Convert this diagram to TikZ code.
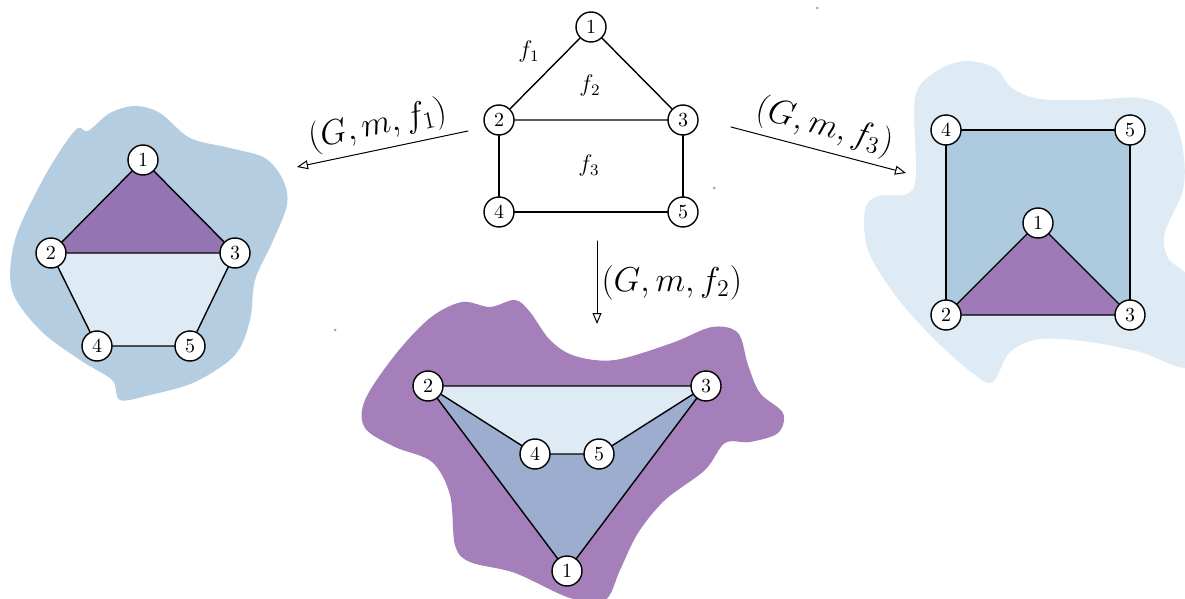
\documentclass[tikz,border=0pt]{standalone}
\usetikzlibrary{arrows.meta,backgrounds}
\definecolor{blobblue}{HTML}{B5CDE1}
\definecolor{paleblue}{HTML}{DEEBF5}
\definecolor{midblue}{HTML}{AECADF}
\definecolor{greyblue}{HTML}{9DADD0}
\definecolor{facepurple}{HTML}{9474B3}
\definecolor{lightpurple}{HTML}{9E7BB8}
\definecolor{blobpurple}{HTML}{A47FBA}

\begin{document}
\begin{tikzpicture}[x=0.5pt, y=-0.5pt, line cap=round,
    vtx/.style={circle, draw, fill=white, line width=0.7pt,
                minimum size=15pt, inner sep=0pt, font=\normalsize},
    edge/.style={line width=0.7pt},
    map/.style={-{Triangle[open, length=5.5pt, width=4.5pt]}, line width=0.5pt},
    maplabel/.style={font=\LARGE, sloped, above, inner sep=3pt},
    blob/.style={smooth cycle, tension=0.55}]
    \useasboundingbox (0,0) rectangle (1185,599);

    % --- grafo de partida, con sus tres caras
    \node[vtx] (c1) at (591,27)  {1};
    \node[vtx] (c2) at (499,120) {2};
    \node[vtx] (c3) at (683,120) {3};
    \node[vtx] (c4) at (499,212) {4};
    \node[vtx] (c5) at (683,212) {5};
    \draw[edge] (c1) -- (c2) -- (c3) -- (c1);
    \draw[edge] (c2) -- (c4) -- (c5) -- (c3);
    \node[font=\large] (f1) at (529,52)  {$f_1$};
    \node[font=\large] (f2) at (590,86)  {$f_2$};
    \node[font=\large] (f3) at (589,166) {$f_3$};

    % --- flechas hacia los tres dibujos
    \coordinate (fromL) at (468,131);
    \coordinate (toL)   at (297,167);
    \coordinate (fromR) at (731,127);
    \coordinate (toR)   at (906,173);
    \coordinate (fromB) at (597,241);
    \coordinate (toB)   at (597,324);
    \draw[map] (fromL) -- (toL) node[maplabel, midway] {$(G,m,f_1)$};
    \draw[map] (fromR) -- (toR) node[maplabel, midway] {$(G,m,f_3)$};
    \draw[map] (fromB) -- (toB)
         node[midway, right, font=\LARGE, inner sep=2pt] {$(G,m,f_2)$};

    % --- f1 como cara exterior
    \node[vtx] (l1) at (143,160) {1};
    \node[vtx] (l2) at (51,253)  {2};
    \node[vtx] (l3) at (235,253) {3};
    \node[vtx] (l4) at (97,346)  {4};
    \node[vtx] (l5) at (190,346) {5};
    \draw[edge] (l1) -- (l2) -- (l3) -- (l1);
    \draw[edge] (l2) -- (l4) -- (l5) -- (l3);

    % --- f2 como cara exterior
    \node[vtx] (b1) at (567,571) {1};
    \node[vtx] (b2) at (428,386) {2};
    \node[vtx] (b3) at (706,386) {3};
    \node[vtx] (b4) at (535,454) {4};
    \node[vtx] (b5) at (599,454) {5};
    \draw[edge] (b1) -- (b2) -- (b3) -- (b1);
    \draw[edge] (b2) -- (b4) -- (b5) -- (b3);

    % --- f3 como cara exterior
    \node[vtx] (r1) at (1038,223) {1};
    \node[vtx] (r2) at (946,315)  {2};
    \node[vtx] (r3) at (1130,315) {3};
    \node[vtx] (r4) at (946,130)  {4};
    \node[vtx] (r5) at (1130,130) {5};
    \draw[edge] (r1) -- (r2) -- (r3) -- (r1);
    \draw[edge] (r2) -- (r4) -- (r5) -- (r3);

    % --- manchas y caras, por debajo de todo
    \begin{scope}[on background layer]
      \fill[blobblue] plot[blob] coordinates {
        (78,128) (88,131) (110,113) (135,106) (160,113) (190,138)
        (230,148) (265,158) (283,180) (287,205) (272,243) (255,280)
        (250,320) (235,355) (195,382) (150,395) (120,400) (112,380)
        (80,360) (40,330) (12,290) (15,240) (40,185) (62,148)};
      \fill[facepurple] (l1.center) -- (l2.center) -- (l3.center) -- cycle;
      \fill[paleblue] (l2.center) -- (l3.center) -- (l5.center)
                      -- (l4.center) -- cycle;

      \fill[blobpurple] plot[blob] coordinates {
        (462,302) (490,307) (515,300) (530,312) (550,340) (575,356)
        (615,360) (672,343) (712,327) (738,333) (748,365) (760,393)
        (783,413) (778,433) (750,442) (725,443) (705,470) (665,500)
        (638,533) (620,570) (605,600) (570,598) (515,573) (470,562)
        (455,545) (450,495) (432,462) (395,447) (365,428) (365,400)
        (395,355) (430,318)};
      \fill[greyblue] (b1.center) -- (b2.center) -- (b3.center) -- cycle;
      \fill[paleblue] (b2.center) -- (b3.center) -- (b5.center)
                      -- (b4.center) -- cycle;

      \fill[paleblue] plot[blob] coordinates {
        (915,98) (935,72) (965,61) (995,68) (1012,88) (1040,99)
        (1090,100) (1140,98) (1170,112) (1183,150) (1183,190)
        (1165,232) (1168,258) (1192,285) (1192,365) (1140,352)
        (1090,342) (1040,339) (1010,352) (993,382) (975,375)
        (935,340) (895,295) (868,250) (865,210) (878,196) (907,194)
        (916,175)};
      \fill[midblue] (r2.center) -- (r4.center) -- (r5.center)
                     -- (r3.center) -- cycle;
      \fill[lightpurple] (r1.center) -- (r2.center) -- (r3.center) -- cycle;
    \end{scope}

    % --- puntitos sueltos
    \fill[gray!70] (817,8) circle (1.5);
    \fill[gray!70] (714,188) circle (1.5);
    \fill[gray!70] (335,330) circle (1.5);
  \end{tikzpicture}
\end{document}
